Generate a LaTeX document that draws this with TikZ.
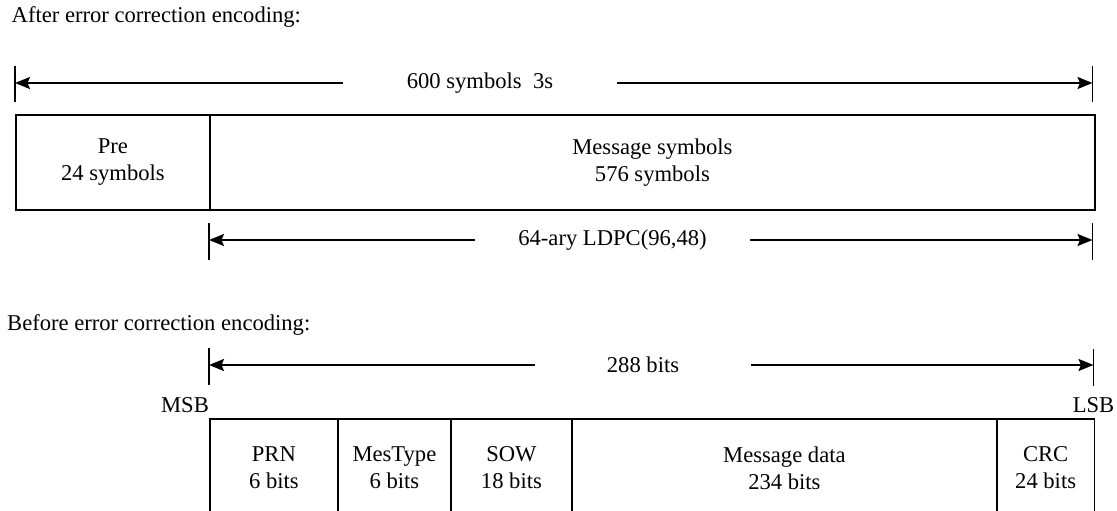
\documentclass[tikz,border=0pt]{standalone}
\usepackage{fontspec}
\setmainfont{Liberation Serif}
\usetikzlibrary{arrows.meta}
\begin{document}
\begin{tikzpicture}[x=1pt,y=-1pt,
  every node/.style={font=\fontsize{22.6}{27}\selectfont},
  field/.style={draw,line width=1.8pt,inner sep=0pt,align=center,anchor=north west},
  dimtext/.style={inner sep=0pt,minimum height=24pt},
  dimarrow/.style={line width=1.8pt,-{Stealth[length=15pt,width=12pt,inset=2.5pt]}},
  tick/.style={line width=1.8pt}]
\useasboundingbox (0,0) rectangle (1117,511);
\clip (0,0) rectangle (1117,511);

% titles
\node[anchor=west,inner sep=0pt] (after) at (11.5,17) {After error correction encoding:};
\node[anchor=west,inner sep=0pt] (before) at (7,325) {Before error correction encoding:};

% --- 600 symbols dimension
\coordinate (t1a) at (15,66);  \coordinate (t1b) at (15,102);
\coordinate (t2a) at (1092.5,66);  \coordinate (t2b) at (1092.5,102);
\draw[tick] (t1a) -- (t1b);
\draw[tick] (t2a) -- (t2b);
\coordinate (d1l) at (15,83); \coordinate (d1r) at (1092.5,83);
\node[dimtext,minimum width=274pt] (dim600) at (480,83) {600 symbols\ \ 3s};
\draw[dimarrow] (dim600.west) -- (d1l);
\draw[dimarrow] (dim600.east) -- (d1r);

% --- top frame
\node[field,minimum width=194pt,minimum height=95pt] (pre) at (15,114) {Pre\\24 symbols};
\node[field,minimum width=885pt,minimum height=95pt] (msg) at (209,114) {Message symbols\\576 symbols};

% --- LDPC dimension
\coordinate (t3a) at (209,223); \coordinate (t3b) at (209,260);
\coordinate (t4a) at (1092.5,223); \coordinate (t4b) at (1092.5,260);
\draw[tick] (t3a) -- (t3b);
\draw[tick] (t4a) -- (t4b);
\coordinate (d2l) at (209,240); \coordinate (d2r) at (1092.5,240);
\node[dimtext,minimum width=275pt] (ldpc) at (612.5,240) {64-ary LDPC(96,48)};
\draw[dimarrow] (ldpc.west) -- (d2l);
\draw[dimarrow] (ldpc.east) -- (d2r);

% --- 288 bits dimension
\coordinate (t5a) at (209,348); \coordinate (t5b) at (209,385);
\coordinate (t6a) at (1093.5,349); \coordinate (t6b) at (1093.5,386);
\draw[tick] (t5a) -- (t5b);
\draw[tick] (t6a) -- (t6b);
\coordinate (d3l) at (209,365); \coordinate (d3r) at (1093.5,365);
\node[dimtext,minimum width=216pt] (bits) at (643,365) {288 bits};
\draw[dimarrow] (bits.west) -- (d3l);
\draw[dimarrow] (bits.east) -- (d3r);

\node[inner sep=0pt] (msb) at (185,405) {MSB};
\node[inner sep=0pt] (lsb) at (1093.5,405) {LSB};

% --- bottom frame (cut at the lower edge)
\node[field,minimum width=128pt,minimum height=98pt] (prn) at (209,418) {PRN\\6 bits};
\node[field,minimum width=113pt,minimum height=98pt] (mtype) at (337,418) {MesType\\6 bits};
\node[field,minimum width=121pt,minimum height=98pt] (sow) at (450,418) {SOW\\18 bits};
\node[field,minimum width=425pt,minimum height=98pt] (mdata) at (571,418) {Message data\\234 bits};
\node[field,minimum width=97.5pt,minimum height=98pt] (crc) at (996,418) {CRC\\24 bits};
\end{tikzpicture}
\end{document}
